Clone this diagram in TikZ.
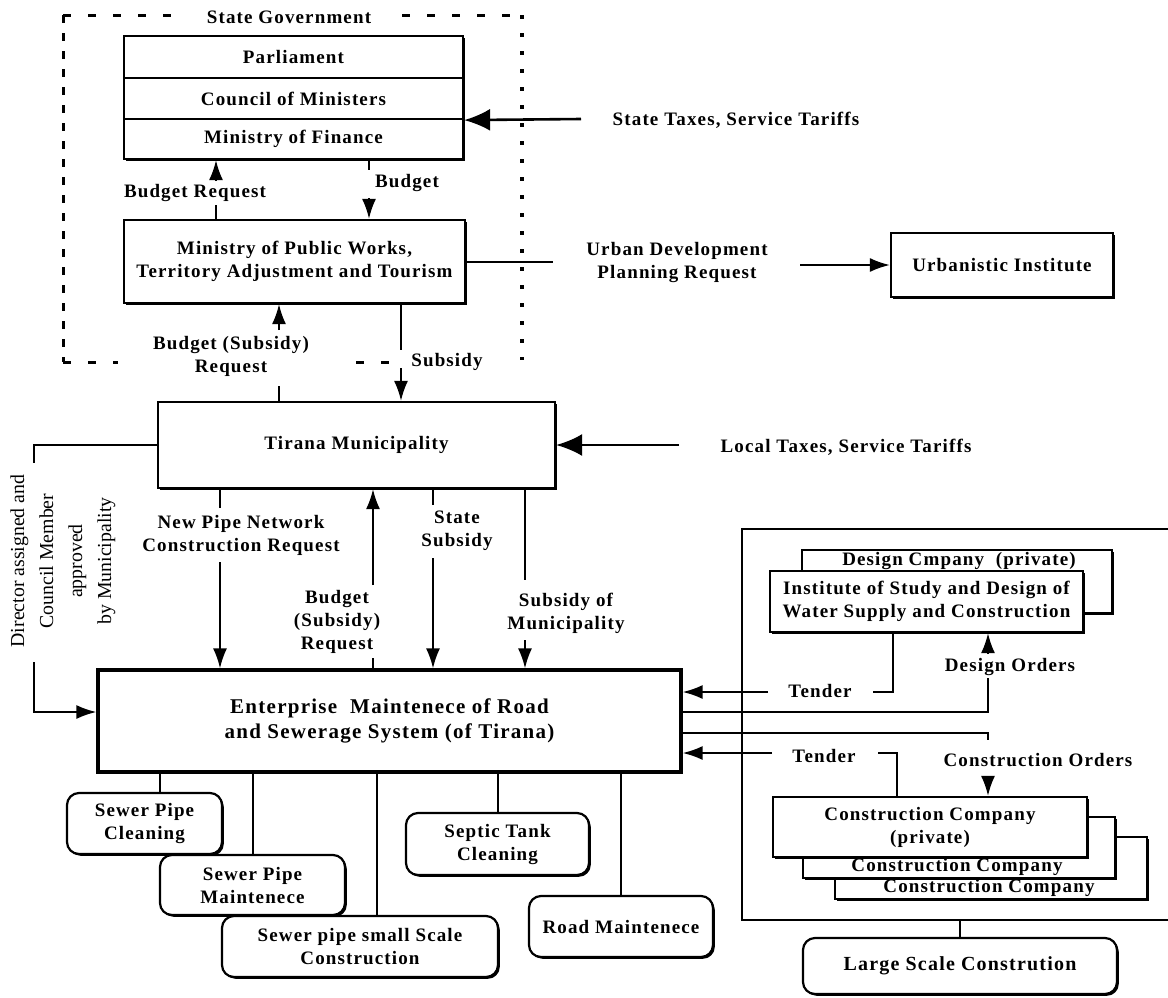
\documentclass[tikz,border=0pt]{standalone}
\usepackage{fontspec}
\setmainfont{Liberation Serif}[LetterSpace=6]
\newfontfamily\plainserif{Liberation Serif}
\usetikzlibrary{arrows.meta,calc,shadows}
\begin{document}
\begin{tikzpicture}[x=0.5pt,y=-0.5pt,
  txt/.style={font=\fontsize{9.5}{11.5}\selectfont\bfseries},
  box/.style={draw, line width=1.1pt, fill=white, inner sep=1pt, align=center, txt,
    drop shadow={shadow xshift=0.9pt, shadow yshift=-0.9pt, fill=black, opacity=1}},
  rbox/.style={box, rounded corners=6pt},
  lbl/.style={align=center, txt, inner sep=1pt},
  conn/.style={line width=1pt},
  arr/.style={conn, -{Latex[length=10pt,width=7pt]}},
  bigarr/.style={line width=1.3pt, -{Latex[length=13pt,width=11pt]}},
  sgtop/.style={line width=1.5pt, dash pattern=on 4pt off 8.5pt},
  sgleft/.style={line width=1.5pt, dash pattern=on 4pt off 5pt},
  sgright/.style={line width=2.2pt, dash pattern=on 1.8pt off 7.2pt}]
\useasboundingbox (0,0) rectangle (1168,997);

% ---------- State Government frame ----------
\coordinate (sgTL) at (63,15);
\coordinate (sgT1) at (172,15);
\coordinate (sgT2) at (402,15);
\coordinate (sgTR) at (522,15);
\coordinate (sgBL) at (63,362);
\coordinate (sgBR) at (522,360);
\coordinate (sgB1) at (118,362);
\coordinate (sgB2) at (356,362);
\coordinate (sgB3) at (395,362);
\draw[sgtop] (sgTL) -- (sgT1);
\draw[sgtop] (sgT2) -- (sgTR);
\draw[sgleft] (sgTL) -- (sgBL);
\draw[sgright] (sgTR) -- (sgBR);
\draw[sgtop] (sgBL) -- (sgB1);
\draw[sgtop] (sgB2) -- (sgB3);
\node[lbl] (sgl) at (289,17) {State Government};

% ---------- State boxes ----------
\node[box, minimum width=169.5pt, minimum height=21pt] (parl) at (293.5,57) {Parliament};
\node[box, minimum width=169.5pt, minimum height=20.5pt] (council) at (293.5,98.5) {Council of Ministers};
\node[box, minimum width=169.5pt, minimum height=20pt] (finance) at (293.5,139) {Ministry of Finance};
\node[box, minimum width=170.5pt, minimum height=41.5pt] (mpw) at (294.5,261.5) {Ministry of Public Works,\\Territory Adjustment and Tourism};
\node[box, minimum width=111pt, minimum height=32pt] (urb) at (1002,265) {Urbanistic Institute};
\node[box, minimum width=198.5pt, minimum height=43pt] (tirana) at (356.5,445) {Tirana Municipality};
\node[box, line width=1.6pt, minimum width=291.5pt, minimum height=51pt, font=\fontsize{10.5}{12.5}\selectfont\bfseries] (ent) at (389.5,721) {Enterprise\ \ Maintenece of Road\\and Sewerage System (of Tirana)};

% ---------- bottom service boxes ----------
\node[rbox, minimum width=77.5pt, minimum height=30.5pt] (spc) at (144.5,823.5) {Sewer Pipe\\Cleaning};
\node[rbox, minimum width=92.5pt, minimum height=30pt] (spm) at (252.5,885) {Sewer Pipe\\Maintenece};
\node[rbox, minimum width=138pt, minimum height=30.5pt] (sss) at (360,946.5) {Sewer pipe small Scale\\Construction};
\node[rbox, minimum width=91.5pt, minimum height=31pt] (stc) at (497.5,844) {Septic Tank\\Cleaning};
\node[rbox, minimum width=92pt, minimum height=30.5pt] (road) at (621,926.5) {Road Maintenece};

% ---------- right panel ----------
\coordinate (frTL) at (742,529);
\coordinate (frTR) at (1168,529);
\coordinate (frBL) at (742,920);
\coordinate (frBR) at (1168,920);
\draw[conn] (frTR) -- (frTL) -- (frBL) -- (frBR);

\node[box, minimum width=155pt, minimum height=31.5pt] (design) at (957,581.5) {};
\node[lbl] (dclbl) at (959,561) {Design Cmpany\ \ (private)};
\node[box, minimum width=156.5pt, minimum height=30.5pt] (inst) at (926.5,601.5) {Institute of Study and Design of\\Water Supply and Construction};

\node[box, minimum width=156pt, minimum height=31pt] (cc3) at (991,868) {};
\node[box, minimum width=156pt, minimum height=30.5pt] (cc2) at (959,847.5) {};
\node[box, minimum width=157pt, minimum height=30pt] (cc1) at (930,827) {Construction Company\\(private)};
\node[lbl] (cc2lbl) at (957,867) {Construction Company};
\node[lbl] (cc3lbl) at (989,888) {Construction Company};

\node[rbox, minimum width=157pt, minimum height=28pt, font=\fontsize{10}{12}\selectfont\bfseries] (large) at (960,966) {Large Scale Constrution};

% ---------- labels ----------
\node[lbl] (lbreq) at (195,193) {Budget Request};
\node[lbl] (lbud) at (407,183) {Budget};
\node[lbl] (lbsr) at (231,356) {Budget (Subsidy)\\Request};
\node[lbl] (lsub) at (447,362) {Subsidy};
\node[lbl] (lstt) at (736,120) {State Taxes, Service Tariffs};
\node[lbl] (lurb) at (677,262) {Urban Development\\Planning Request};
\node[lbl] (llt) at (846,447) {Local Taxes, Service Tariffs};
\node[align=center, inner sep=0pt, rotate=90, font=\plainserif\fontsize{9.9}{14.5}\selectfont] (ldir) at (63,561) {Director assigned and\\Council Member\\approved\\by Municipality};
\node[lbl] (lnp) at (241,535) {New Pipe Network\\Construction Request};
\node[lbl] (lbs2) at (337,622) {Budget\\(Subsidy)\\Request};
\node[lbl] (lss) at (457,531) {State\\Subsidy};
\node[lbl] (lsm) at (566,613) {Subsidy of\\Municipality};
\node[lbl] (lt1) at (820,691) {Tender};
\node[lbl] (lt2) at (824,756) {Tender};
\node[lbl] (ldo) at (1010,667) {Design Orders};
\node[lbl] (lco) at (1038,760) {Construction Orders};

% ---------- connectors: state level ----------
\coordinate (sttA) at (581,119);
\draw[bigarr] (sttA) -- (council.south east);

\coordinate (brqA) at (216,181);
\coordinate (brqB) at (216,205);
\draw[arr] (brqA) -- (brqA |- finance.south);
\draw[conn] (brqB) -- (brqB |- mpw.north);

\coordinate (bgA) at (369,170);
\coordinate (bgB) at (369,198);
\draw[conn] (bgA |- finance.south) -- (bgA);
\draw[arr] (bgB) -- (bgB |- mpw.north);

\coordinate (urbA) at (553,261.5);
\coordinate (urbB) at (800,265);
\draw[conn] (mpw.east) -- (urbA);
\draw[arr] (urbB) -- (urb.west);

\coordinate (bsA) at (279,330);
\coordinate (bsB) at (279,386);
\draw[arr] (bsA) -- (bsA |- mpw.south);
\draw[conn] (bsB) -- (bsB |- tirana.north);

\coordinate (sbA) at (401,350);
\coordinate (sbB) at (401,368);
\draw[conn] (sbA |- mpw.south) -- (sbA);
\draw[arr] (sbB) -- (sbB |- tirana.north);

\coordinate (ltA) at (679,445);
\draw[bigarr] (ltA) -- (tirana.east);

% ---------- connectors: municipality to enterprise ----------
\coordinate (dirB) at (34,463);
\coordinate (dirC) at (34,662);
\draw[conn] (tirana.west) -| (dirB);
\draw[arr] (dirC) |- ($(ent.west)+(0,-9)$);

\coordinate (npA) at (220,508);
\coordinate (npB) at (220,562);
\draw[conn] (npA |- tirana.south) -- (npA);
\draw[arr] (npB) -- (npB |- ent.north);

\coordinate (bs2A) at (373,585);
\coordinate (bs2B) at (373,658);
\draw[arr] (bs2A) -- (bs2A |- tirana.south);
\draw[conn] (bs2B) -- (bs2B |- ent.north);

\coordinate (ssA) at (433,505);
\coordinate (ssB) at (433,558);
\draw[conn] (ssA |- tirana.south) -- (ssA);
\draw[arr] (ssB) -- (ssB |- ent.north);

\coordinate (smA) at (525,580);
\coordinate (smB) at (525,640);
\draw[conn] (smA |- tirana.south) -- (smA);
\draw[arr] (smB) -- (smB |- ent.north);

% ---------- enterprise to services ----------
\coordinate (b1) at (160,780);
\coordinate (b3) at (377,780);
\draw[conn] (b1 |- ent.south) -- (b1 |- spc.north);
\draw[conn] (spm.north |- ent.south) -- (spm.north);
\draw[conn] (b3 |- ent.south) -- (b3 |- sss.north);
\draw[conn] (stc.north |- ent.south) -- (stc.north);
\draw[conn] (road.north |- ent.south) -- (road.north);

% ---------- enterprise to right panel ----------
\coordinate (t1A) at (768,692);
\coordinate (t1C) at (873,692);
\coordinate (t1B) at (893,692);
\draw[arr] (t1A) -- (t1A -| ent.east);
\draw[conn] (t1C) -- (t1B) -- (t1B |- inst.south);

\coordinate (doA) at (988,712);
\coordinate (doB) at (988,678);
\coordinate (doC) at (988,654);
\draw[conn] (doA -| ent.east) -- (doA) -- (doB);
\draw[arr] (doC) -- (doC |- inst.south);

\coordinate (coA) at (988,733);
\coordinate (coB) at (988,740);
\coordinate (coC) at (988,777);
\draw[conn] (coA -| ent.east) -- (coA) -- (coB);
\draw[arr] (coC) -- (coC |- cc1.north);

\coordinate (t2A) at (772,753);
\coordinate (t2C) at (878,753);
\coordinate (t2B) at (897,753);
\draw[arr] (t2A) -- (t2A -| ent.east);
\draw[conn] (t2C) -- (t2B) -- (t2B |- cc1.north);

\coordinate (lsA) at (960,920);
\draw[conn] (lsA) -- (large.north);
\end{tikzpicture}
\end{document}
